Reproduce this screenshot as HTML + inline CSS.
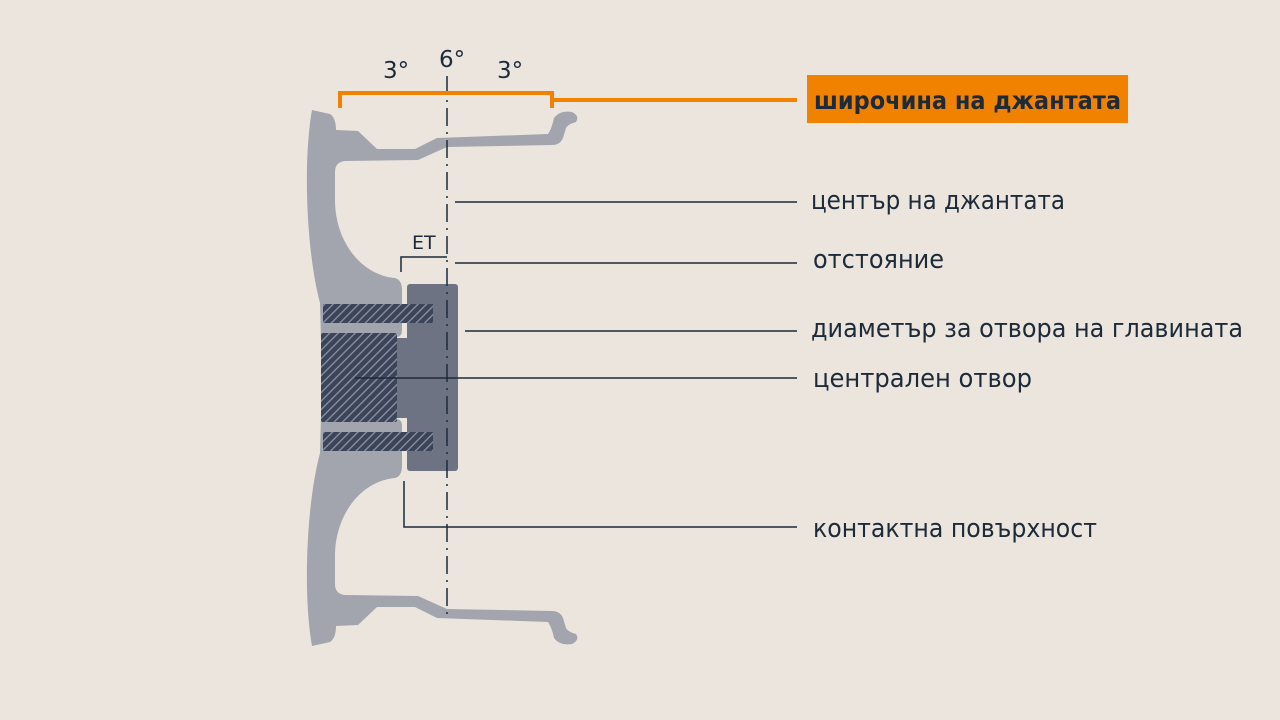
<!DOCTYPE html>
<html><head><meta charset="utf-8"><style>
html,body{margin:0;padding:0;background:#ebe5de;}
svg{display:block}
text{font-family:"DejaVu Sans","Liberation Sans",sans-serif;fill:#1d2a3a;}
</style></head><body>
<svg width="1280" height="720" viewBox="0 0 1280 720" xmlns="http://www.w3.org/2000/svg">
<defs>
<pattern id="h" width="6" height="6" patternUnits="userSpaceOnUse" patternTransform="rotate(45)">
<rect width="6" height="6" fill="#3c445a"/>
<rect x="0" y="0" width="1.3" height="6" fill="#8d93a3"/>
</pattern>
</defs>
<rect width="1280" height="720" fill="#ebe5de"/>
<g fill="#a2a5ad">
<path id="w" d="M322 378 L320 303 C306 250 303 160 312 110 L330 114 Q336 118 336 130 L358 131 L377 149 L415 149 L437 138 L548 134 Q552 128 554 118 Q560 110 572 112 Q580 116 576 122 Q568 124 566 128 L563 138 Q560 145 552 145 L447 147 L418 160 L345 161 Q335 162 335 172 L335 200 C335 240 360 275 395 278 Q402 280 402 290 L402 330 Q402 337 396 337 L396 378 Z"/>
<use href="#w" transform="translate(0,756) scale(1,-1)"/>
</g>
<rect x="407" y="284" width="51" height="187" rx="3" fill="#6e7383"/>
<rect x="395" y="338" width="14" height="80" fill="#6e7383"/>
<rect x="323" y="304" width="110" height="19" fill="url(#h)"/>
<rect x="323" y="432" width="110" height="19" fill="url(#h)"/>
<rect x="321" y="333" width="76" height="89" rx="2" fill="url(#h)"/>
<line x1="447" y1="76" x2="447" y2="620" stroke="#1d2a3a" stroke-width="1.5" stroke-dasharray="18 6 2 6"/>
<g stroke="#1d2a3a" stroke-width="1.5" fill="none">
<line x1="455" y1="202" x2="797" y2="202"/>
<line x1="455" y1="263" x2="797" y2="263"/>
<polyline points="401,272 401,257 447,257"/>
<line x1="465" y1="331" x2="797" y2="331"/>
<line x1="355" y1="378" x2="797" y2="378"/>
<polyline points="404,481 404,527 797,527"/>
</g>
<g stroke="#f08200" stroke-width="4" fill="none">
<polyline points="340,108 340,93 552,93 552,108"/>
<line x1="552" y1="100" x2="797" y2="100"/>
</g>
<rect x="807" y="75" width="321" height="48" fill="#f08200"/>
<text x="814" y="109" font-size="25" font-weight="bold" textLength="307" lengthAdjust="spacingAndGlyphs">широчина на джантата</text>
<g font-size="26" lengthAdjust="spacingAndGlyphs">
<text x="811" y="209" textLength="254" lengthAdjust="spacingAndGlyphs">център на джантата</text>
<text x="813" y="268" textLength="131" lengthAdjust="spacingAndGlyphs">отстояние</text>
<text x="811" y="337" textLength="432" lengthAdjust="spacingAndGlyphs">диаметър за отвора на главината</text>
<text x="813" y="387" textLength="219" lengthAdjust="spacingAndGlyphs">централен отвор</text>
<text x="813" y="537" textLength="284" lengthAdjust="spacingAndGlyphs">контактна повърхност</text>
</g>
<g font-size="23">
<text x="383" y="78">3°</text>
<text x="439" y="67">6°</text>
<text x="497" y="78">3°</text>
<text x="412" y="249" font-size="19">ET</text>
</g>
</svg>
</body></html>
